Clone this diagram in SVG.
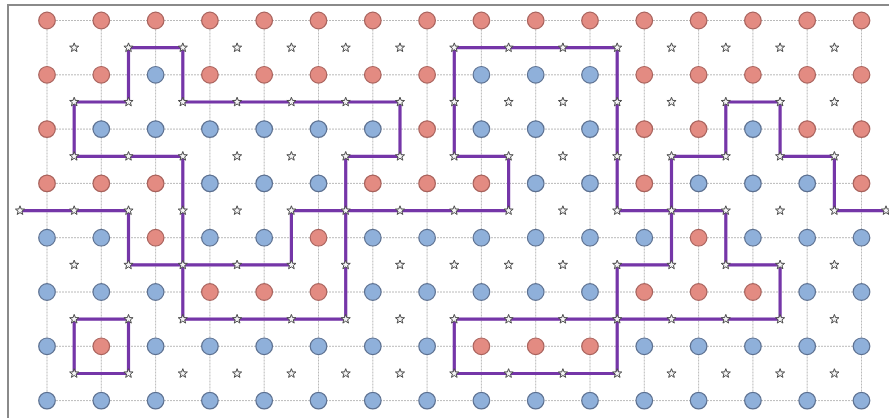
<svg xmlns="http://www.w3.org/2000/svg" xmlns:xlink="http://www.w3.org/1999/xlink" width="889" height="418" viewBox="0 0 889 418">
<style>
.r{fill:#E38B82;stroke:#A8625C;stroke-width:1.2}
.b{fill:#8FB0DA;stroke:#5C7090;stroke-width:1.2}
.g{stroke:#a8a8a8;stroke-width:0.8;stroke-dasharray:2 1;fill:none}
.p{stroke:#7536A8;stroke-width:3.2;fill:none;stroke-linejoin:miter}
.s{fill:#f4f4f4;stroke:#4a4a4a;stroke-width:1}
</style>
<defs>
<polygon id="star" class="s" points="0,-4.8 1.18,-1.62 4.57,-1.48 1.9,0.62 2.82,3.88 0,2 -2.82,3.88 -1.9,0.62 -4.57,-1.48 -1.18,-1.62"/>
</defs>
<rect x="0" y="0" width="889" height="418" fill="#ffffff"/>
<path d="M8,420 V5 H890" fill="none" stroke="#8a8a8a" stroke-width="2"/>
<g id="grid">
<path class="g" d="M47,20.5H861.5M47,74.8H861.5M47,129.1H861.5M47,183.4H861.5M47,237.7H861.5M47,292H861.5M47,346.3H861.5M47,400.6H861.5"/>
<path class="g" d="M47,20.5V400.6M101.3,20.5V400.6M155.6,20.5V400.6M209.9,20.5V400.6M264.2,20.5V400.6M318.5,20.5V400.6M372.8,20.5V400.6M427.1,20.5V400.6M481.4,20.5V400.6M535.7,20.5V400.6M590,20.5V400.6M644.3,20.5V400.6M698.6,20.5V400.6M752.9,20.5V400.6M807.2,20.5V400.6M861.5,20.5V400.6"/>
</g>
<g id="nodes">
<g id="n0-0"><circle class="r" cx="47" cy="20.5" r="8.3"/></g>
<g id="n0-1"><circle class="r" cx="101.3" cy="20.5" r="8.3"/></g>
<g id="n0-2"><circle class="r" cx="155.6" cy="20.5" r="8.3"/></g>
<g id="n0-3"><circle class="r" cx="209.9" cy="20.5" r="8.3"/></g>
<g id="n0-4"><circle class="r" cx="264.2" cy="20.5" r="8.3"/></g>
<g id="n0-5"><circle class="r" cx="318.5" cy="20.5" r="8.3"/></g>
<g id="n0-6"><circle class="r" cx="372.8" cy="20.5" r="8.3"/></g>
<g id="n0-7"><circle class="r" cx="427.1" cy="20.5" r="8.3"/></g>
<g id="n0-8"><circle class="r" cx="481.4" cy="20.5" r="8.3"/></g>
<g id="n0-9"><circle class="r" cx="535.7" cy="20.5" r="8.3"/></g>
<g id="n0-10"><circle class="r" cx="590" cy="20.5" r="8.3"/></g>
<g id="n0-11"><circle class="r" cx="644.3" cy="20.5" r="8.3"/></g>
<g id="n0-12"><circle class="r" cx="698.6" cy="20.5" r="8.3"/></g>
<g id="n0-13"><circle class="r" cx="752.9" cy="20.5" r="8.3"/></g>
<g id="n0-14"><circle class="r" cx="807.2" cy="20.5" r="8.3"/></g>
<g id="n0-15"><circle class="r" cx="861.5" cy="20.5" r="8.3"/></g>
<g id="n1-0"><circle class="r" cx="47" cy="74.8" r="8.3"/></g>
<g id="n1-1"><circle class="r" cx="101.3" cy="74.8" r="8.3"/></g>
<g id="n1-2"><circle class="b" cx="155.6" cy="74.8" r="8.3"/></g>
<g id="n1-3"><circle class="r" cx="209.9" cy="74.8" r="8.3"/></g>
<g id="n1-4"><circle class="r" cx="264.2" cy="74.8" r="8.3"/></g>
<g id="n1-5"><circle class="r" cx="318.5" cy="74.8" r="8.3"/></g>
<g id="n1-6"><circle class="r" cx="372.8" cy="74.8" r="8.3"/></g>
<g id="n1-7"><circle class="r" cx="427.1" cy="74.8" r="8.3"/></g>
<g id="n1-8"><circle class="b" cx="481.4" cy="74.8" r="8.3"/></g>
<g id="n1-9"><circle class="b" cx="535.7" cy="74.8" r="8.3"/></g>
<g id="n1-10"><circle class="b" cx="590" cy="74.8" r="8.3"/></g>
<g id="n1-11"><circle class="r" cx="644.3" cy="74.8" r="8.3"/></g>
<g id="n1-12"><circle class="r" cx="698.6" cy="74.8" r="8.3"/></g>
<g id="n1-13"><circle class="r" cx="752.9" cy="74.8" r="8.3"/></g>
<g id="n1-14"><circle class="r" cx="807.2" cy="74.8" r="8.3"/></g>
<g id="n1-15"><circle class="r" cx="861.5" cy="74.8" r="8.3"/></g>
<g id="n2-0"><circle class="r" cx="47" cy="129.1" r="8.3"/></g>
<g id="n2-1"><circle class="b" cx="101.3" cy="129.1" r="8.3"/></g>
<g id="n2-2"><circle class="b" cx="155.6" cy="129.1" r="8.3"/></g>
<g id="n2-3"><circle class="b" cx="209.9" cy="129.1" r="8.3"/></g>
<g id="n2-4"><circle class="b" cx="264.2" cy="129.1" r="8.3"/></g>
<g id="n2-5"><circle class="b" cx="318.5" cy="129.1" r="8.3"/></g>
<g id="n2-6"><circle class="b" cx="372.8" cy="129.1" r="8.3"/></g>
<g id="n2-7"><circle class="r" cx="427.1" cy="129.1" r="8.3"/></g>
<g id="n2-8"><circle class="b" cx="481.4" cy="129.1" r="8.3"/></g>
<g id="n2-9"><circle class="b" cx="535.7" cy="129.1" r="8.3"/></g>
<g id="n2-10"><circle class="b" cx="590" cy="129.1" r="8.3"/></g>
<g id="n2-11"><circle class="r" cx="644.3" cy="129.1" r="8.3"/></g>
<g id="n2-12"><circle class="r" cx="698.6" cy="129.1" r="8.3"/></g>
<g id="n2-13"><circle class="b" cx="752.9" cy="129.1" r="8.3"/></g>
<g id="n2-14"><circle class="r" cx="807.2" cy="129.1" r="8.3"/></g>
<g id="n2-15"><circle class="r" cx="861.5" cy="129.1" r="8.3"/></g>
<g id="n3-0"><circle class="r" cx="47" cy="183.4" r="8.3"/></g>
<g id="n3-1"><circle class="r" cx="101.3" cy="183.4" r="8.3"/></g>
<g id="n3-2"><circle class="r" cx="155.6" cy="183.4" r="8.3"/></g>
<g id="n3-3"><circle class="b" cx="209.9" cy="183.4" r="8.3"/></g>
<g id="n3-4"><circle class="b" cx="264.2" cy="183.4" r="8.3"/></g>
<g id="n3-5"><circle class="b" cx="318.5" cy="183.4" r="8.3"/></g>
<g id="n3-6"><circle class="r" cx="372.8" cy="183.4" r="8.3"/></g>
<g id="n3-7"><circle class="r" cx="427.1" cy="183.4" r="8.3"/></g>
<g id="n3-8"><circle class="r" cx="481.4" cy="183.4" r="8.3"/></g>
<g id="n3-9"><circle class="b" cx="535.7" cy="183.4" r="8.3"/></g>
<g id="n3-10"><circle class="b" cx="590" cy="183.4" r="8.3"/></g>
<g id="n3-11"><circle class="r" cx="644.3" cy="183.4" r="8.3"/></g>
<g id="n3-12"><circle class="b" cx="698.6" cy="183.4" r="8.3"/></g>
<g id="n3-13"><circle class="b" cx="752.9" cy="183.4" r="8.3"/></g>
<g id="n3-14"><circle class="b" cx="807.2" cy="183.4" r="8.3"/></g>
<g id="n3-15"><circle class="r" cx="861.5" cy="183.4" r="8.3"/></g>
<g id="n4-0"><circle class="b" cx="47" cy="237.7" r="8.3"/></g>
<g id="n4-1"><circle class="b" cx="101.3" cy="237.7" r="8.3"/></g>
<g id="n4-2"><circle class="r" cx="155.6" cy="237.7" r="8.3"/></g>
<g id="n4-3"><circle class="b" cx="209.9" cy="237.7" r="8.3"/></g>
<g id="n4-4"><circle class="b" cx="264.2" cy="237.7" r="8.3"/></g>
<g id="n4-5"><circle class="r" cx="318.5" cy="237.7" r="8.3"/></g>
<g id="n4-6"><circle class="b" cx="372.8" cy="237.7" r="8.3"/></g>
<g id="n4-7"><circle class="b" cx="427.1" cy="237.7" r="8.3"/></g>
<g id="n4-8"><circle class="b" cx="481.4" cy="237.7" r="8.3"/></g>
<g id="n4-9"><circle class="b" cx="535.7" cy="237.7" r="8.3"/></g>
<g id="n4-10"><circle class="b" cx="590" cy="237.7" r="8.3"/></g>
<g id="n4-11"><circle class="b" cx="644.3" cy="237.7" r="8.3"/></g>
<g id="n4-12"><circle class="r" cx="698.6" cy="237.7" r="8.3"/></g>
<g id="n4-13"><circle class="b" cx="752.9" cy="237.7" r="8.3"/></g>
<g id="n4-14"><circle class="b" cx="807.2" cy="237.7" r="8.3"/></g>
<g id="n4-15"><circle class="b" cx="861.5" cy="237.7" r="8.3"/></g>
<g id="n5-0"><circle class="b" cx="47" cy="292" r="8.3"/></g>
<g id="n5-1"><circle class="b" cx="101.3" cy="292" r="8.3"/></g>
<g id="n5-2"><circle class="b" cx="155.6" cy="292" r="8.3"/></g>
<g id="n5-3"><circle class="r" cx="209.9" cy="292" r="8.3"/></g>
<g id="n5-4"><circle class="r" cx="264.2" cy="292" r="8.3"/></g>
<g id="n5-5"><circle class="r" cx="318.5" cy="292" r="8.3"/></g>
<g id="n5-6"><circle class="b" cx="372.8" cy="292" r="8.3"/></g>
<g id="n5-7"><circle class="b" cx="427.1" cy="292" r="8.3"/></g>
<g id="n5-8"><circle class="b" cx="481.4" cy="292" r="8.3"/></g>
<g id="n5-9"><circle class="b" cx="535.7" cy="292" r="8.3"/></g>
<g id="n5-10"><circle class="b" cx="590" cy="292" r="8.3"/></g>
<g id="n5-11"><circle class="r" cx="644.3" cy="292" r="8.3"/></g>
<g id="n5-12"><circle class="r" cx="698.6" cy="292" r="8.3"/></g>
<g id="n5-13"><circle class="r" cx="752.9" cy="292" r="8.3"/></g>
<g id="n5-14"><circle class="b" cx="807.2" cy="292" r="8.3"/></g>
<g id="n5-15"><circle class="b" cx="861.5" cy="292" r="8.3"/></g>
<g id="n6-0"><circle class="b" cx="47" cy="346.3" r="8.3"/></g>
<g id="n6-1"><circle class="r" cx="101.3" cy="346.3" r="8.3"/></g>
<g id="n6-2"><circle class="b" cx="155.6" cy="346.3" r="8.3"/></g>
<g id="n6-3"><circle class="b" cx="209.9" cy="346.3" r="8.3"/></g>
<g id="n6-4"><circle class="b" cx="264.2" cy="346.3" r="8.3"/></g>
<g id="n6-5"><circle class="b" cx="318.5" cy="346.3" r="8.3"/></g>
<g id="n6-6"><circle class="b" cx="372.8" cy="346.3" r="8.3"/></g>
<g id="n6-7"><circle class="b" cx="427.1" cy="346.3" r="8.3"/></g>
<g id="n6-8"><circle class="r" cx="481.4" cy="346.3" r="8.3"/></g>
<g id="n6-9"><circle class="r" cx="535.7" cy="346.3" r="8.3"/></g>
<g id="n6-10"><circle class="r" cx="590" cy="346.3" r="8.3"/></g>
<g id="n6-11"><circle class="b" cx="644.3" cy="346.3" r="8.3"/></g>
<g id="n6-12"><circle class="b" cx="698.6" cy="346.3" r="8.3"/></g>
<g id="n6-13"><circle class="b" cx="752.9" cy="346.3" r="8.3"/></g>
<g id="n6-14"><circle class="b" cx="807.2" cy="346.3" r="8.3"/></g>
<g id="n6-15"><circle class="b" cx="861.5" cy="346.3" r="8.3"/></g>
<g id="n7-0"><circle class="b" cx="47" cy="400.6" r="8.3"/></g>
<g id="n7-1"><circle class="b" cx="101.3" cy="400.6" r="8.3"/></g>
<g id="n7-2"><circle class="b" cx="155.6" cy="400.6" r="8.3"/></g>
<g id="n7-3"><circle class="b" cx="209.9" cy="400.6" r="8.3"/></g>
<g id="n7-4"><circle class="b" cx="264.2" cy="400.6" r="8.3"/></g>
<g id="n7-5"><circle class="b" cx="318.5" cy="400.6" r="8.3"/></g>
<g id="n7-6"><circle class="b" cx="372.8" cy="400.6" r="8.3"/></g>
<g id="n7-7"><circle class="b" cx="427.1" cy="400.6" r="8.3"/></g>
<g id="n7-8"><circle class="b" cx="481.4" cy="400.6" r="8.3"/></g>
<g id="n7-9"><circle class="b" cx="535.7" cy="400.6" r="8.3"/></g>
<g id="n7-10"><circle class="b" cx="590" cy="400.6" r="8.3"/></g>
<g id="n7-11"><circle class="b" cx="644.3" cy="400.6" r="8.3"/></g>
<g id="n7-12"><circle class="b" cx="698.6" cy="400.6" r="8.3"/></g>
<g id="n7-13"><circle class="b" cx="752.9" cy="400.6" r="8.3"/></g>
<g id="n7-14"><circle class="b" cx="807.2" cy="400.6" r="8.3"/></g>
<g id="n7-15"><circle class="b" cx="861.5" cy="400.6" r="8.3"/></g>
</g>
<g id="connectors">
<path class="p" d="M128.5,47.7 H182.8 V102 H400 V156.3 H345.7 V319.2 H182.8 V156.3 H74.2 V102 H128.5 Z"/>
<path class="p" d="M20,210.6 H128.5 V264.9 H291.4 V210.6 H508.6 V156.3 H454.3 V47.7 H617.2 V210.6 H725.8 V264.9 H780.1 V319.2 H454.3 V373.5 H617.2 V264.9 H671.5 V156.3 H725.8 V102 H780.1 V156.3 H834.4 V210.6 H888"/>
<path class="p" d="M74.2,319.2 H128.5 V373.5 H74.2 Z"/>
</g>
<g id="stars">
<g id="s-row0">
<use href="#star" x="74.2" y="47.7"/><use href="#star" x="128.5" y="47.7"/><use href="#star" x="182.8" y="47.7"/><use href="#star" x="237.1" y="47.7"/><use href="#star" x="291.4" y="47.7"/><use href="#star" x="345.7" y="47.7"/><use href="#star" x="400" y="47.7"/><use href="#star" x="454.3" y="47.7"/><use href="#star" x="508.6" y="47.7"/><use href="#star" x="562.9" y="47.7"/><use href="#star" x="617.2" y="47.7"/><use href="#star" x="671.5" y="47.7"/><use href="#star" x="725.8" y="47.7"/><use href="#star" x="780.1" y="47.7"/><use href="#star" x="834.4" y="47.7"/>
</g>
<g id="s-row1">
<use href="#star" x="74.2" y="102"/><use href="#star" x="128.5" y="102"/><use href="#star" x="182.8" y="102"/><use href="#star" x="237.1" y="102"/><use href="#star" x="291.4" y="102"/><use href="#star" x="345.7" y="102"/><use href="#star" x="400" y="102"/><use href="#star" x="454.3" y="102"/><use href="#star" x="508.6" y="102"/><use href="#star" x="562.9" y="102"/><use href="#star" x="617.2" y="102"/><use href="#star" x="671.5" y="102"/><use href="#star" x="725.8" y="102"/><use href="#star" x="780.1" y="102"/><use href="#star" x="834.4" y="102"/>
</g>
<g id="s-row2">
<use href="#star" x="74.2" y="156.3"/><use href="#star" x="128.5" y="156.3"/><use href="#star" x="182.8" y="156.3"/><use href="#star" x="237.1" y="156.3"/><use href="#star" x="291.4" y="156.3"/><use href="#star" x="345.7" y="156.3"/><use href="#star" x="400" y="156.3"/><use href="#star" x="454.3" y="156.3"/><use href="#star" x="508.6" y="156.3"/><use href="#star" x="562.9" y="156.3"/><use href="#star" x="617.2" y="156.3"/><use href="#star" x="671.5" y="156.3"/><use href="#star" x="725.8" y="156.3"/><use href="#star" x="780.1" y="156.3"/><use href="#star" x="834.4" y="156.3"/>
</g>
<g id="s-row3">
<use href="#star" x="20" y="210.6"/><use href="#star" x="74.2" y="210.6"/><use href="#star" x="128.5" y="210.6"/><use href="#star" x="182.8" y="210.6"/><use href="#star" x="237.1" y="210.6"/><use href="#star" x="291.4" y="210.6"/><use href="#star" x="345.7" y="210.6"/><use href="#star" x="400" y="210.6"/><use href="#star" x="454.3" y="210.6"/><use href="#star" x="508.6" y="210.6"/><use href="#star" x="562.9" y="210.6"/><use href="#star" x="617.2" y="210.6"/><use href="#star" x="671.5" y="210.6"/><use href="#star" x="725.8" y="210.6"/><use href="#star" x="780.1" y="210.6"/><use href="#star" x="834.4" y="210.6"/><use href="#star" x="886" y="210.6"/>
</g>
<g id="s-row4">
<use href="#star" x="74.2" y="264.9"/><use href="#star" x="128.5" y="264.9"/><use href="#star" x="182.8" y="264.9"/><use href="#star" x="237.1" y="264.9"/><use href="#star" x="291.4" y="264.9"/><use href="#star" x="345.7" y="264.9"/><use href="#star" x="400" y="264.9"/><use href="#star" x="454.3" y="264.9"/><use href="#star" x="508.6" y="264.9"/><use href="#star" x="562.9" y="264.9"/><use href="#star" x="617.2" y="264.9"/><use href="#star" x="671.5" y="264.9"/><use href="#star" x="725.8" y="264.9"/><use href="#star" x="780.1" y="264.9"/><use href="#star" x="834.4" y="264.9"/>
</g>
<g id="s-row5">
<use href="#star" x="74.2" y="319.2"/><use href="#star" x="128.5" y="319.2"/><use href="#star" x="182.8" y="319.2"/><use href="#star" x="237.1" y="319.2"/><use href="#star" x="291.4" y="319.2"/><use href="#star" x="345.7" y="319.2"/><use href="#star" x="400" y="319.2"/><use href="#star" x="454.3" y="319.2"/><use href="#star" x="508.6" y="319.2"/><use href="#star" x="562.9" y="319.2"/><use href="#star" x="617.2" y="319.2"/><use href="#star" x="671.5" y="319.2"/><use href="#star" x="725.8" y="319.2"/><use href="#star" x="780.1" y="319.2"/><use href="#star" x="834.4" y="319.2"/>
</g>
<g id="s-row6">
<use href="#star" x="74.2" y="373.5"/><use href="#star" x="128.5" y="373.5"/><use href="#star" x="182.8" y="373.5"/><use href="#star" x="237.1" y="373.5"/><use href="#star" x="291.4" y="373.5"/><use href="#star" x="345.7" y="373.5"/><use href="#star" x="400" y="373.5"/><use href="#star" x="454.3" y="373.5"/><use href="#star" x="508.6" y="373.5"/><use href="#star" x="562.9" y="373.5"/><use href="#star" x="617.2" y="373.5"/><use href="#star" x="671.5" y="373.5"/><use href="#star" x="725.8" y="373.5"/><use href="#star" x="780.1" y="373.5"/><use href="#star" x="834.4" y="373.5"/>
</g>
</g>
</svg>
